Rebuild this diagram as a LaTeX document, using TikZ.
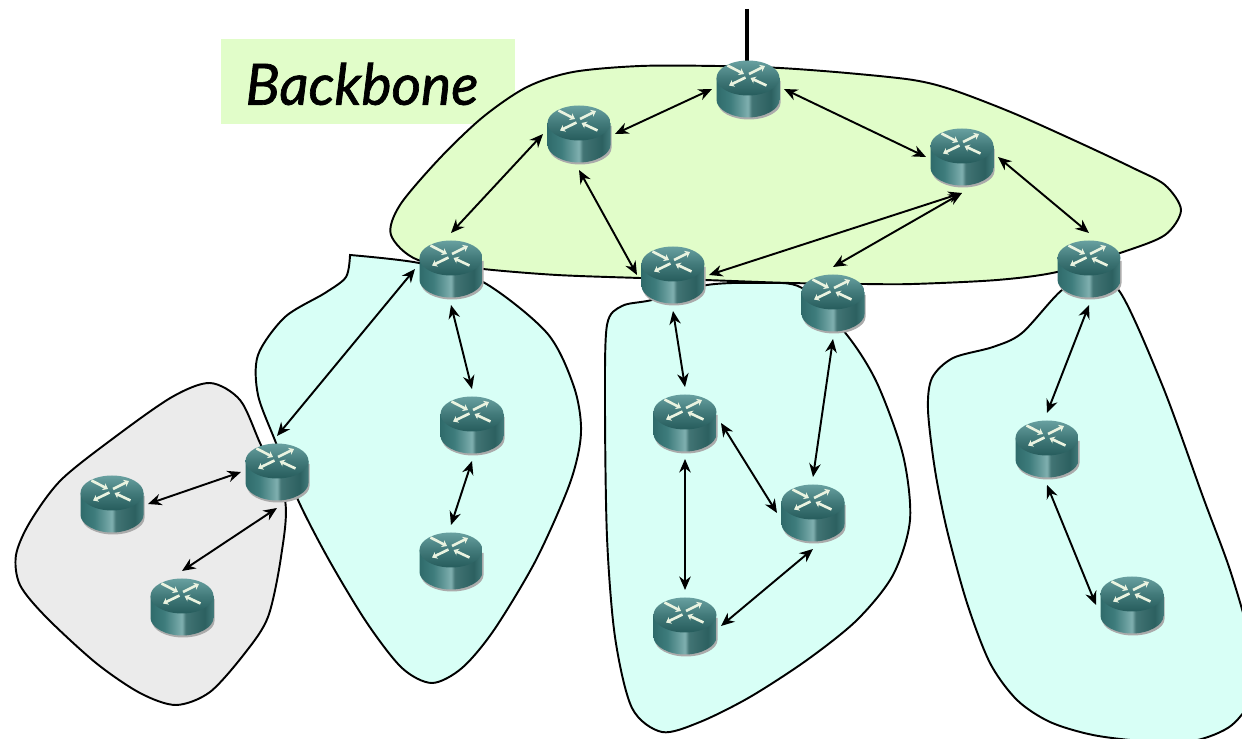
\documentclass[tikz,border=0pt]{standalone}
\usepackage{fontspec}
\usetikzlibrary{arrows.meta}
\newfontfamily\labelfont[ItalicFeatures={FakeBold=1.2}]{Lato}
\definecolor{backbonegreen}{HTML}{E1FDC9}
\definecolor{areacyan}{HTML}{D8FFF6}
\definecolor{areagray}{HTML}{EBEBEB}
\definecolor{routershadow}{HTML}{ABABAB}
\definecolor{routercross}{HTML}{EAF3E0}
\pgfdeclarehorizontalshading{routerside}{100bp}{color(0bp)=(rgb,255:red,47;green,107;blue,107);
	color(25bp)=(rgb,255:red,47;green,107;blue,107); color(36bp)=(rgb,255:red,62;green,124;blue,124);
	color(44bp)=(rgb,255:red,98;green,152;blue,152); color(50bp)=(rgb,255:red,128;green,176;blue,176);
	color(53bp)=(rgb,255:red,66;green,116;blue,116); color(68bp)=(rgb,255:red,44;green,96;blue,96);
	color(75bp)=(rgb,255:red,66;green,122;blue,122); color(100bp)=(rgb,255:red,66;green,122;blue,122)}
\pgfdeclareverticalshading{routertop}{100bp}{color(0bp)=(rgb,255:red,38;green,92;blue,92);
	color(25bp)=(rgb,255:red,38;green,92;blue,92); color(50bp)=(rgb,255:red,66;green,122;blue,122);
	color(75bp)=(rgb,255:red,104;green,160;blue,160); color(100bp)=(rgb,255:red,104;green,160;blue,160)}
\tikzset{
	router/.style={minimum width=1.44cm, minimum height=1.44cm, inner sep=0pt, outer sep=0pt},
	area/.style={draw=black, line width=1.1pt},
	link/.style={line width=1.1pt, {Stealth[length=0.27cm,width=0.23cm]}-{Stealth[length=0.27cm,width=0.23cm]}},
	cross/.style={draw=routercross, line width=1.5pt, -{Stealth[length=0.1cm,width=0.15cm]}},
	pics/routericon/.style={code={
		\fill[routershadow] (-30,-8) -- (-30,14) .. controls (-30,23) and (-16,30.5) .. (1,30.5) .. controls (18,30.5) and (32.5,23) .. (32.5,14) -- (32.5,-8) -- cycle;
		\shade[shading=routerside] (-31.5,-11) -- (-31.5,11) .. controls (-31.5,20) and (-17,28.5) .. (0,28.5) .. controls (17,28.5) and (31.5,20) .. (31.5,11) -- (31.5,-11) -- cycle;
		\shade[shading=routertop] (0,-11) ellipse [x radius=31.5, y radius=17.5];
		\draw[cross] (-20.5,-23.5) -- (-4,-15);
		\draw[cross] (1,-15) -- (17,-23);
		\draw[cross] (-2.5,-11.5) -- (-19,-3.5);
		\draw[cross] (18.5,-3.5) -- (2.5,-11);
	}}
}
\begin{document}
\begin{tikzpicture}[x=0.02cm, y=-0.02cm]
	\useasboundingbox (0,0) rectangle (1242,739);
	\node[fill=backbonegreen, minimum width=5.88cm, minimum height=1.7cm, inner sep=0pt] (backbone) at (368,81.5) {};
	\node[font=\labelfont\itshape\fontsize{32.4}{33}\selectfont, inner sep=0pt] (backbonetext) at (362,84) {Backbone};

	\draw[area, fill=areagray] plot[smooth cycle] coordinates {(210,383) (240,400) (260,443) (285,500) (281,557) (268,617) (245,653) (210,692) (176,705) (140,693) (96,663) (46,617) (20,585) (16,555) (30,522) (61,480) (115,437) (172,397)};
	\draw[area, fill=areacyan] plot[smooth] coordinates {(350,255) (419,263) (483,282) (547,333) (574,387) (581,433) (570,483) (536,560) (494,630) (462,668) (432,683) (402,668) (367,623) (329,560) (298,500) (276,443) (258,395) (258,355) (285,317) (325,293) (346,277) (350,255)} -- cycle;
	\draw[area, fill=areacyan] plot[smooth cycle] coordinates {(652,300) (622,306) (607,325) (605,403) (607,537) (615,637) (632,708) (662,732) (700,722) (750,697) (807,660) (857,620) (893,575) (910,520) (903,455) (877,383) (847,335) (802,288) (760,283) (707,285)};
	\draw[area, fill=areacyan] plot[smooth cycle] coordinates {(1062,290) (1022,333) (993,347) (953,358) (932,378) (928,410) (935,470) (947,530) (967,603) (990,663) (1017,700) (1050,722) (1093,735) (1143,741) (1193,741) (1232,725) (1255,690) (1250,640) (1230,570) (1203,497) (1163,387) (1120,292) (1090,280)};
	\draw[area, fill=backbonegreen] plot[smooth cycle] coordinates {(717,66) (640,66) (573,72) (527,87) (483,117) (440,158) (400,205) (391,235) (418,260) (483,269) (557,275) (640,278) (705,280) (790,283) (863,284) (913,284) (997,280) (1057,272) (1123,252) (1165,235) (1181,210) (1165,185) (1133,168) (1080,143) (1013,113) (953,90) (913,80) (847,73) (780,68)};

	\coordinate (uplink) at (747,9);
	\coordinate (uplinkend) at (747,62);
	\draw[line width=1.8pt] (uplink) -- (uplinkend);

	\foreach \name/\x/\y in {rtop/748/89, rtwo/579/134, rthree/962/157, rfour/451/269, rfive/673/275, rsix/833/303, rseven/1089/269, reight/472/425, rnine/451/561, rten/685/423, releven/813/513, rtwelve/685/626, rthirteen/1047/449, rfourteen/1132/605, rfifteen/277/472, rsixteen/112/504, rseventeen/182/607} {
		\pic at (\x,\y) {routericon};
		\node[router] (\name) at (\x,\y) {};
	}

	\draw[link] (rtwo.east) -- (rtop.west);
	\draw[link] (rtop.east) -- (rthree.west);
	\draw[link] (rtwo.west) -- (rfour.north);
	\draw[link] (rtwo.south) -- (rfive.west);
	\draw[link] (rthree.south) -- (rfive.east);
	\draw[link] (rthree.south) -- (rsix.north);
	\draw[link] (rthree.east) -- (rseven.north);
	\draw[link] (rfour.west) -- (rfifteen.north);
	\draw[link] (rfour.south) -- (reight.north);
	\draw[link] (reight.south) -- (rnine.north);
	\draw[link] (rfive.south) -- (rten.north);
	\draw[link] (rsix.south) -- (releven.north);
	\draw[link] (rten.east) -- (releven.west);
	\draw[link] (rten.south) -- (rtwelve.north);
	\draw[link] (releven.south) -- (rtwelve.east);
	\draw[link] (rseven.south) -- (rthirteen.north);
	\draw[link] (rthirteen.south) -- (rfourteen.west);
	\draw[link] (rfifteen.west) -- (rsixteen.east);
	\draw[link] (rfifteen.south) -- (rseventeen.north);
\end{tikzpicture}
\end{document}
